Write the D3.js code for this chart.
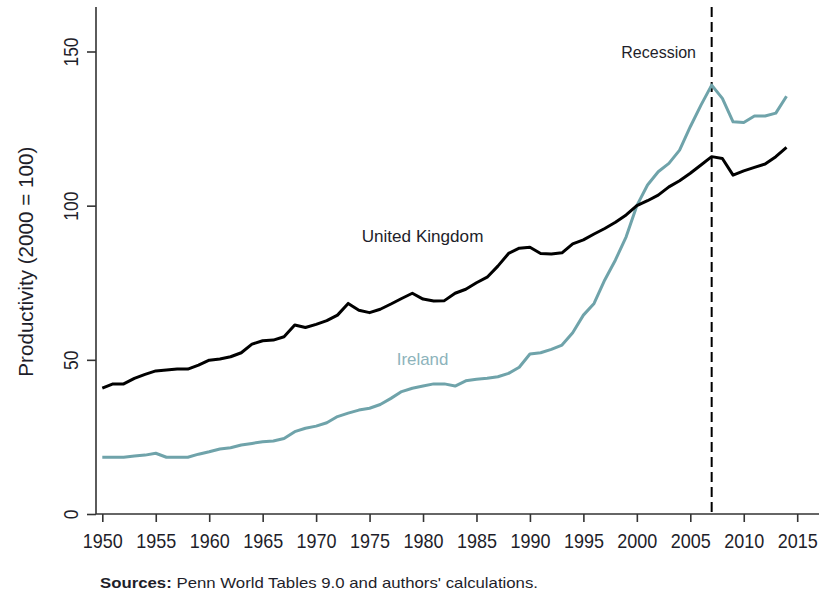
<!DOCTYPE html>
<html><head><meta charset="utf-8">
<script src="https://cdn.jsdelivr.net/npm/d3@7"></script>
<style>
html,body{margin:0;padding:0;background:#fff;}
svg{display:block;font-family:"Liberation Sans",Arial,sans-serif;}
</style></head>
<body>
<svg id="chart" width="819" height="592"></svg>
<script>
const years = d3.range(1950, 2015);
const ukValues = [40.8,42.2,42.2,44.0,45.3,46.4,46.7,47.0,47.0,48.3,
  49.9,50.3,51.0,52.3,55.1,56.2,56.4,57.5,61.3,60.5,
  61.5,62.7,64.5,68.3,66.1,65.3,66.4,68.1,69.9,71.6,
  69.7,69.1,69.2,71.6,72.9,75.0,76.8,80.4,84.5,86.2,
  86.5,84.5,84.3,84.7,87.6,88.9,90.8,92.6,94.6,97.0,
  100,101.6,103.4,106.1,108.1,110.5,113.2,115.9,115.3,109.9,
  111.3,112.4,113.5,115.9,118.9];
const irelandValues = [18.4,18.4,18.4,18.8,19.1,19.7,18.4,18.4,18.4,19.4,
  20.2,21.1,21.5,22.4,22.9,23.4,23.7,24.5,26.7,27.8,
  28.5,29.6,31.6,32.7,33.7,34.3,35.5,37.5,39.7,40.8,
  41.5,42.2,42.2,41.5,43.2,43.7,44.0,44.5,45.6,47.6,
  51.9,52.3,53.4,54.8,58.8,64.5,68.3,75.9,82.4,89.9,
  100,106.7,111.0,113.7,118.0,125.6,132.6,139.1,134.8,127.2,
  127.0,129.1,129.1,130.0,135.5];
const xTicks = [1950,1955,1960,1965,1970,1975,1980,1985,1990,1995,2000,2005,2010,2015];
const yTicks = [0,50,100,150];
const recessionYear = 2007;
const labels = {uk:"United Kingdom", ie:"Ireland", recession:"Recession",
  yTitle:"Productivity (2000 = 100)", srcBold:"Sources:", src:" Penn World Tables 9.0 and authors' calculations."};

const svg = d3.select("#chart");
const x = d3.scaleLinear().domain([1950, 2015]).range([102.3, 797.2]);
const y = d3.scaleLinear().domain([0, 150]).range([514, 51.5]);
const axisColor = "#333";
const textColor = "#1e1e2a";

// axes
const xAxis = svg.append("g").attr("transform","translate(0,514)")
  .call(d3.axisBottom(x).tickValues(xTicks).tickFormat(d3.format("d")).tickSize(8).tickSizeOuter(0));
xAxis.select(".domain").attr("d","M96,0H819").attr("stroke",axisColor).attr("stroke-width",1.6);
xAxis.selectAll(".tick line").attr("stroke",axisColor).attr("stroke-width",1.6);
xAxis.selectAll(".tick text").attr("y",34).attr("dy",null)
  .attr("font-size",21).attr("fill",textColor)
  .attr("textLength",40).attr("lengthAdjust","spacingAndGlyphs");

const yAxis = svg.append("g").attr("transform","translate(96,0)")
  .call(d3.axisLeft(y).tickValues(yTicks).tickSize(9).tickSizeOuter(0));
yAxis.select(".domain").attr("d","M0,7V514").attr("stroke",axisColor).attr("stroke-width",1.6);
yAxis.selectAll(".tick line").attr("stroke",axisColor).attr("stroke-width",1.6);
yAxis.selectAll(".tick text").attr("x",0).attr("y",0).attr("dy",null)
  .attr("transform","translate(-18,0) rotate(-90)")
  .attr("text-anchor","middle").attr("font-size",21).attr("fill",textColor)
  .attr("textLength", d => String(d).length*9.7).attr("lengthAdjust","spacingAndGlyphs");

svg.append("text").attr("transform","translate(33.3,261.7) rotate(-90)")
  .attr("text-anchor","middle").attr("font-size",21).attr("fill",textColor)
  .attr("textLength",230).attr("lengthAdjust","spacingAndGlyphs")
  .text(labels.yTitle);

// recession line
svg.append("line").attr("x1",x(recessionYear)).attr("x2",x(recessionYear))
  .attr("y1",7).attr("y2",514).attr("stroke","#000").attr("stroke-width",2)
  .attr("stroke-dasharray","10,5");

// lines
const line = d3.line().x((d,i)=>x(years[i])).y(d=>y(d));
svg.append("path").datum(irelandValues).attr("d",line)
  .attr("fill","none").attr("stroke","#6fa3aa").attr("stroke-width",3).attr("stroke-linejoin","round");
svg.append("path").datum(ukValues).attr("d",line)
  .attr("fill","none").attr("stroke","#000").attr("stroke-width",3).attr("stroke-linejoin","round");

// labels
svg.append("text").attr("x",361.7).attr("y",241.5).attr("font-size",17).attr("fill",textColor)
  .attr("textLength",121.7).attr("lengthAdjust","spacingAndGlyphs").text(labels.uk);
svg.append("text").attr("x",396.7).attr("y",365).attr("font-size",17).attr("fill","#8db3bb")
  .attr("textLength",51.7).attr("lengthAdjust","spacingAndGlyphs").text(labels.ie);
svg.append("text").attr("x",696).attr("y",58).attr("text-anchor","end").attr("font-size",16).attr("fill",textColor)
  .text(labels.recession);

// source
const src = svg.append("text").attr("x",100).attr("y",588).attr("font-size",15).attr("fill",textColor)
  .attr("textLength",438).attr("lengthAdjust","spacingAndGlyphs");
src.append("tspan").attr("font-weight","bold").text(labels.srcBold);
src.append("tspan").text(labels.src);
</script>
</body></html>
